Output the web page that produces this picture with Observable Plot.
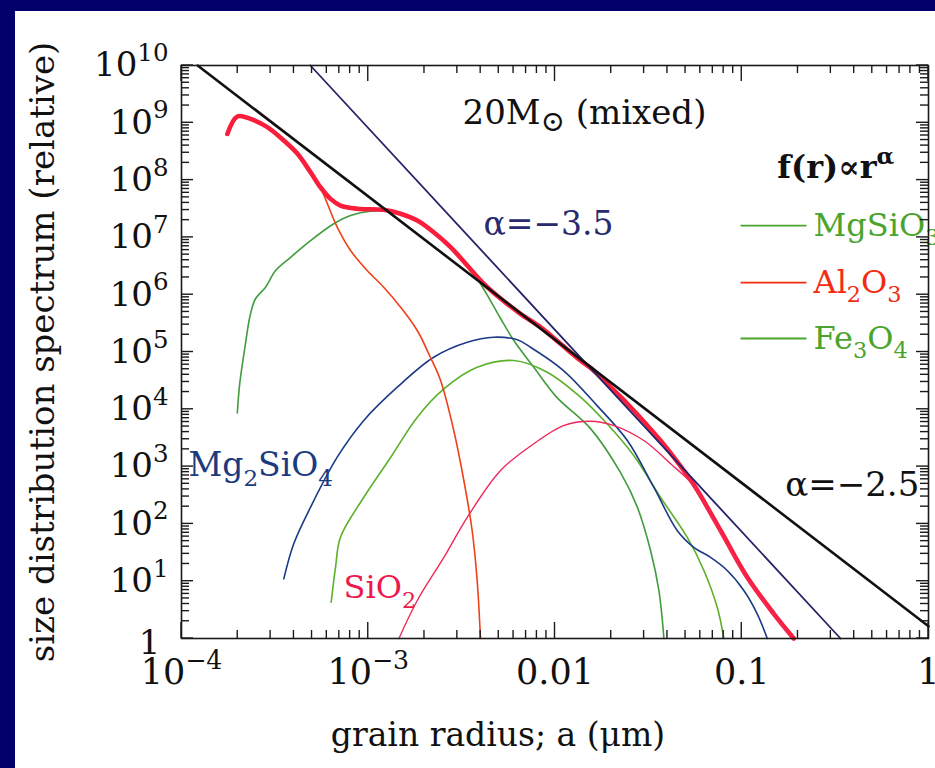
<!DOCTYPE html>
<html><head><meta charset="utf-8">
<script src="https://cdn.jsdelivr.net/npm/d3@7"></script>
<script src="https://cdn.jsdelivr.net/npm/@observablehq/plot@0.6"></script>
<style>
html,body{margin:0;padding:0;background:#03006c;width:935px;height:768px;overflow:hidden;}
#panel{position:absolute;left:15px;top:11px;width:920px;height:757px;background:#fff;}
#panel svg{display:block;font-family:'DejaVu Serif',serif;font-size:34px;color:#111;background:#fff;}
</style></head><body><div id="panel"></div>
<script>
// ---- tick values / labels ----
const xMajor = [1e-4, 1e-3, 1e-2, 1e-1, 1];
const xMajorLabels = ["10^{−4}", "10^{−3}", "0.01", "0.1", "1"];
const yMajor = [1, 1e1, 1e2, 1e3, 1e4, 1e5, 1e6, 1e7, 1e8, 1e9, 1e10];
const yMajorLabels = ["1", "10^{1}", "10^{2}", "10^{3}", "10^{4}", "10^{5}", "10^{6}", "10^{7}", "10^{8}", "10^{9}", "10^{10}"];
const minorMult = [2, 3, 4, 5, 6, 7, 8, 9];
const xTitle = "grain radius; a (μm)";
const yTitle = "size distribution spectrum (relative)";

// ---- series (grain radius a in micron, relative size distribution f) ----
const totalA = [1.76e-4, 1.99e-4, 2.34e-4, 2.88e-4, 3.53e-4, 4.17e-4, 4.91e-4, 5.55e-4, 6.28e-4, 7.1e-4, 8.73e-4, 1.21e-3, 1.49e-3, 1.83e-3, 2.24e-3, 2.76e-3, 3.39e-3, 4.16e-3, 5.11e-3, 6.53e-3, 8.36e-3, 1.07e-2, 1.37e-2, 1.61e-2, 2.07e-2, 2.44e-2, 3.67e-2, 4.5e-2, 5.54e-2, 7.7e-2, 0.107, 0.1485, 0.19];
const totalF = [6.4e8, 1.29e9, 1.17e9, 8.4e8, 4.9e8, 2.9e8, 1.37e8, 7.5e7, 4.7e7, 3.6e7, 3.16e7, 3.03e7, 2.58e7, 1.97e7, 1.23e7, 6.75e6, 3.24e6, 1.55e6, 8.6e5, 4.64e5, 2.71e5, 1.39e5, 7.1e4, 4.75e4, 2.13e4, 1.25e4, 2.85e3, 1.23e3, 480, 76.7, 11.7, 2.7, 1];

const al2o3A = [1.76e-4, 1.99e-4, 2.34e-4, 2.88e-4, 3.53e-4, 4.17e-4, 4.91e-4, 5.55e-4, 6.82e-4, 8.04e-4, 9.87e-4, 1.21e-3, 1.49e-3, 1.83e-3, 2.15e-3, 2.44e-3, 2.87e-3, 3.25e-3, 3.6e-3, 3.83e-3, 3.99e-3];
const al2o3F = [6.4e8, 1.29e9, 1.17e9, 8.4e8, 4.9e8, 2.9e8, 1.37e8, 7.3e7, 1.51e7, 5.9e6, 2.64e6, 1.35e6, 6.05e5, 2.37e5, 8.1e4, 3.18e4, 4.27e3, 572, 76.7, 10.3, 1];

const mgsio3A = [1.99e-4, 2.05e-4, 2.2e-4, 2.34e-4, 2.49e-4, 2.82e-4, 3.19e-4, 3.84e-4, 4.91e-4, 6.54e-4, 8.04e-4, 1.03e-3, 1.32e-3, 1.49e-3, 1.83e-3, 2.24e-3, 2.76e-3, 3.39e-3, 3.89e-3, 4.51e-3, 5.11e-3, 6.02e-3, 7.7e-3, 1.02e-2, 1.55e-2, 2.24e-2, 2.76e-2, 3.25e-2, 3.6e-2, 3.83e-2];
const mgsio3F = [8.6e3, 2.8e4, 1.39e5, 4.6e5, 8.5e5, 1.35e6, 2.64e6, 4.5e6, 8.8e6, 1.73e7, 2.41e7, 2.87e7, 2.83e7, 2.58e7, 1.97e7, 1.23e7, 6.75e6, 3.24e6, 1.77e6, 7.9e5, 3.84e5, 1.59e5, 5.4e4, 1.63e4, 4.6e3, 790, 196, 34, 6.9, 1];

const mg2sio4A = [3.53e-4, 3.99e-4, 4.91e-4, 6.82e-4, 9.47e-4, 1.43e-3, 2.24e-3, 3.39e-3, 4.7e-3, 6.28e-3, 7.39e-3, 1.11e-2, 1.68e-2, 2.44e-2, 3.38e-2, 4.51e-2, 5.54e-2, 6.81e-2, 8.36e-2, 0.1026, 0.121, 0.137];
const mg2sio4F = [11, 45, 196, 1.46e3, 6.4e3, 2.43e4, 8.1e4, 1.48e5, 1.81e5, 1.63e5, 1.21e5, 4.75e4, 1.16e4, 2.85e3, 437, 77, 39, 26, 15.4, 6.9, 2.7, 1];

const fe3o4A = [6.33e-4, 6.68e-4, 7.1e-4, 9.47e-4, 1.32e-3, 1.83e-3, 2.54e-3, 3.83e-3, 6.02e-3, 9.08e-3, 1.37e-2, 1.9e-2, 2.64e-2, 3.67e-2, 5.1e-2, 6.27e-2, 7.39e-2, 8.02e-2];
const fe3o4F = [4.3, 17.5, 58.6, 292, 1.46e3, 7.3e3, 2.28e4, 5.43e4, 7.1e4, 4.44e4, 1.63e4, 5.58e3, 1.56e3, 292, 58.6, 15.4, 3.5, 1];

const sio2A = [1.46e-3, 1.83e-3, 2.54e-3, 3.39e-3, 5.11e-3, 7.7e-3, 1.11e-2, 1.55e-2, 2.07e-2, 2.99e-2, 4.16e-2, 5.54e-2, 7.7e-2, 0.107, 0.1485, 0.185];
const sio2F = [1, 4.6, 26, 130, 855, 2.5e3, 5.2e3, 6.2e3, 5.2e3, 2.85e3, 1.12e3, 460, 72, 11, 2.6, 1];

// power laws f(r) ∝ r^alpha: end points
const alpha25A = [1.22e-4, 1];
const alpha25F = [1e10, 1.64];
const alpha35A = [4.9e-4, 0.338];
const alpha35F = [1e10, 1];

// ---- build tables ----
const rows = (a, f) => a.map((v, i) => ({a: v, f: f[i]}));
const minorX = xMajor.slice(0, -1).flatMap(d => minorMult.map(k => k * d));
const minorY = yMajor.slice(0, -1).flatMap(d => minorMult.map(k => k * d));

const curves = [
  {d: rows(mgsio3A, mgsio3F), stroke: "#409c3c", w: 1.6},
  {d: rows(fe3o4A, fe3o4F), stroke: "#5cb02a", w: 1.6},
  {d: rows(mg2sio4A, mg2sio4F), stroke: "#1c3a86", w: 1.6},
  {d: rows(al2o3A, al2o3F), stroke: "#f0401a", w: 1.6},
  {d: rows(totalA, totalF), stroke: "#fb1e3c", w: 4.6},
  {d: rows(sio2A, sio2F), stroke: "#f0285a", w: 1.4}
];

const notes = [
  {t: "20M~{⊙} (mixed)", a: 3.2e-3, f: 9.7e8, c: "#111", w: "normal", s: 34},
  {t: "f(r)∝r^{α}", a: 0.155, f: 1.07e8, c: "#111", w: "bold", s: 32},
  {t: "α=−3.5", a: 4.14e-3, f: 1.08e7, c: "#2a2a6e", w: "normal", s: 33},
  {t: "α=−2.5", a: 0.171, f: 301, c: "#111", w: "normal", s: 34},
  {t: "Mg_{2}SiO_{4}", a: 1.09e-4, f: 672, c: "#1c3a80", w: "normal", s: 33},
  {t: "SiO_{2}", a: 7.37e-4, f: 4.99, c: "#ec1a4c", w: "normal", s: 32}
];
const legend = [
  {t: "MgSiO_{3}", f: 1.61e7, c: "#4aa42e"},
  {t: "Al_{2}O_{3}", f: 1.63e6, c: "#f22c12"},
  {t: "Fe_{3}O_{4}", f: 1.72e5, c: "#4aa42e"}
];
const legendA1 = 0.0985, legendA2 = 0.222, legendTextA = 0.2423;

const ML = 166, MR = 7, MT = 54, MB = 130, SW = 920, SH = 757;
const X0 = xMajor[0], X1 = xMajor[xMajor.length - 1];
const Y0 = yMajor[0], Y1 = yMajor[yMajor.length - 1];

const chart = Plot.plot({
  width: SW, height: SH,
  marginLeft: ML, marginRight: MR, marginTop: MT, marginBottom: MB,
  x: {type: "log", domain: [X0, X1], axis: null},
  y: {type: "log", domain: [Y0, Y1], axis: null},
  marks: [
    // tick labels (placed from the scales)
    Plot.text(yMajor.slice(1), {y: d => d, text: d => yMajorLabels[yMajor.indexOf(d)], frameAnchor: "left",
      dx: -13, textAnchor: "end", lineAnchor: "middle", fontSize: 34, fill: "#111"}),
    Plot.text(yMajor.slice(0, 1), {y: d => d, text: d => yMajorLabels[yMajor.indexOf(d)], frameAnchor: "left",
      dx: -21, dy: 5, textAnchor: "end", lineAnchor: "middle", fontSize: 34, fill: "#111"}),
    Plot.text(xMajor, {x: d => d, text: d => xMajorLabels[xMajor.indexOf(d)], frameAnchor: "bottom",
      dy: 21, textAnchor: "middle", lineAnchor: "top", fontSize: 35, fill: "#111"}),
    // axis titles
    Plot.text([yTitle], {text: d => d, frameAnchor: "left", dx: -152, rotate: -90,
      textAnchor: "middle", lineAnchor: "top", fontSize: 34, fill: "#111"}),
    Plot.text([xTitle], {text: d => d, frameAnchor: "bottom", dx: -57, dy: 107,
      textAnchor: "middle", lineAnchor: "bottom", fontSize: 33, fill: "#111"}),
    // component curves + total
    ...curves.map(c => Plot.line(c.d, {x: "a", y: "f", stroke: c.stroke, strokeWidth: c.w, curve: "catmull-rom"})),
    // power laws
    Plot.line(rows(alpha35A, alpha35F), {x: "a", y: "f", stroke: "#25246a", strokeWidth: 1.8}),
    Plot.line(rows(alpha25A, alpha25F), {x: "a", y: "f", stroke: "#111", strokeWidth: 2.6}),
    // annotations
    ...notes.map(n => Plot.text([n], {x: "a", y: "f", text: "t", fill: n.c, fontWeight: n.w, fontSize: n.s, textAnchor: "start", lineAnchor: "bottom"})),
    // legend
    ...legend.map(l => Plot.link([l], {x1: () => legendA1, x2: () => legendA2, y1: "f", y2: "f", stroke: l.c, strokeWidth: 1.8})),
    ...legend.map(l => Plot.text([l], {x: () => legendTextA, y: "f", text: "t", fill: l.c, fontSize: 32, textAnchor: "start", lineAnchor: "middle"})),
    Plot.frame({stroke: "#1a1a1a", strokeWidth: 1.6})
  ]
});
document.getElementById("panel").appendChild(chart);

// inward tick marks on all four sides, positioned with the chart's own x / y scales
(function drawTicks() {
  const sx = chart.scale("x"), sy = chart.scale("y");
  const xl = sx.apply(X0), xr = sx.apply(X1), yb = sy.apply(Y0), yt = sy.apply(Y1);
  const g = d3.select(chart).append("g").attr("stroke", "#1a1a1a").attr("stroke-width", 1.4).attr("fill", "none");
  const yt_ = [...yMajor.map(v => [v, 12]), ...minorY.map(v => [v, 8])];
  const xt_ = [...xMajor.map(v => [v, 16]), ...minorX.map(v => [v, 8])];
  yt_.forEach(([v, len]) => {
    const y = sy.apply(v);
    g.append("line").attr("x1", xl).attr("x2", xl + len).attr("y1", y).attr("y2", y);
    g.append("line").attr("x1", xr - len).attr("x2", xr).attr("y1", y).attr("y2", y);
  });
  xt_.forEach(([v, len]) => {
    const x = sx.apply(v);
    g.append("line").attr("x1", x).attr("x2", x).attr("y1", yb).attr("y2", yb - len);
    g.append("line").attr("x1", x).attr("x2", x).attr("y1", yt).attr("y2", yt + len);
  });
})();

// turn ^{..} (superscript), _{..} (subscript), ~{..} (large subscript) into shifted tspans
(function richify(svg) {
  const NS = "http://www.w3.org/2000/svg";
  const shiftOf = {"^": -0.45, "_": 0.3, "~": 0.22};
  const sizeOf = {"^": 0.72, "_": 0.7, "~": 0.85};
  svg.querySelectorAll("text").forEach(t => {
    const targets = t.querySelectorAll("tspan").length ? Array.from(t.querySelectorAll("tspan")) : [t];
    targets.forEach(node => {
      const s = node.textContent;
      if (!/[\^_~]\{/.test(s)) return;
      const fs = parseFloat(getComputedStyle(node).fontSize) || 32;
      node.textContent = "";
      const re = /([\^_~])\{([^}]*)\}/g;
      let last = 0, m, shift = 0;
      const add = (str, kind) => {
        const ts = document.createElementNS(NS, "tspan");
        const target = kind ? shiftOf[kind] * fs : 0;
        if (target - shift) ts.setAttribute("dy", (target - shift).toFixed(2));
        shift = target;
        if (kind) ts.setAttribute("font-size", (sizeOf[kind] * fs).toFixed(1));
        ts.textContent = str;
        node.appendChild(ts);
      };
      while ((m = re.exec(s))) {
        if (m.index > last) add(s.slice(last, m.index), null);
        add(m[2], m[1]);
        last = re.lastIndex;
      }
      if (last < s.length) add(s.slice(last), null);
    });
  });
})(chart);
</script>
</body></html>
